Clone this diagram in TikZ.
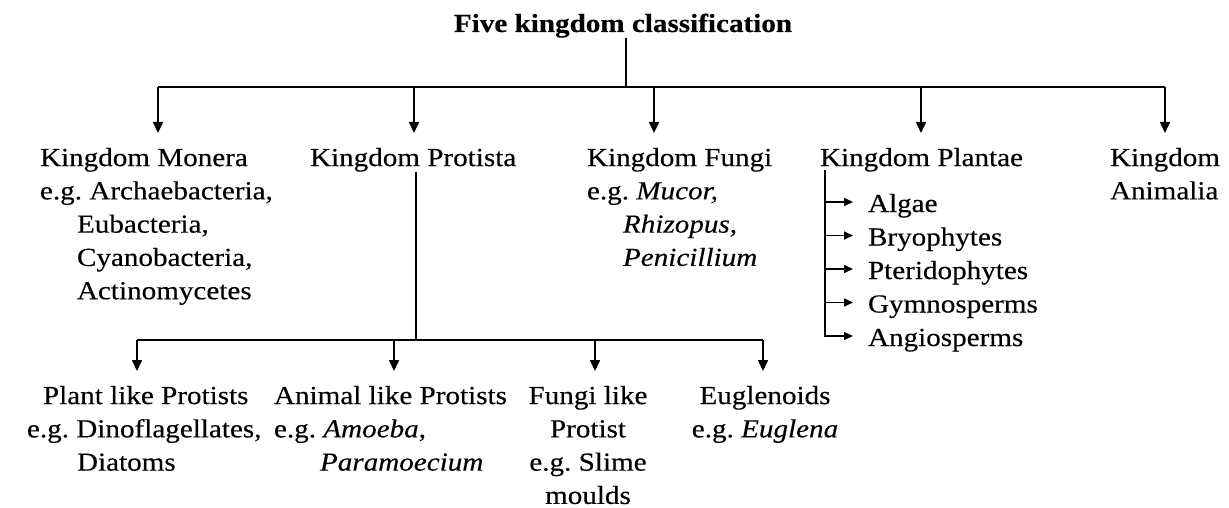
\documentclass[tikz,border=0pt]{standalone}
\usepackage{fontspec}
\setmainfont{Liberation Serif}[FakeStretch=1.12,FakeBold=0.3]
\usetikzlibrary{arrows.meta,calc}
\begin{document}
\begin{tikzpicture}[x=1pt,y=-1pt,
  lbl/.style={inner sep=0pt,outer sep=0pt,font=\fontsize{26}{33.3}\selectfont,align=left,anchor=north west},
  ctr/.style={lbl,align=center,anchor=north},
  ln/.style={line width=1.6pt},
  arr/.style={line width=1.6pt,-{Triangle[length=11pt,width=10pt]},shorten >=15pt},
  sarr/.style={line width=1.6pt,-{Triangle[length=9pt,width=8pt]},shorten >=15pt}]
\useasboundingbox[fill=white] (0,0) rectangle (1229,508);
% title
\node[inner sep=0pt,font=\fontsize{26}{32}\selectfont\bfseries,anchor=base] (title) at (623,32) {Five kingdom classification};
\coordinate (top) at (626,87);
\draw[ln] (title.south -| top) -- (top);
% kingdoms
\node[lbl] (monera) at (40,148) {Kingdom Monera\\e.g.\ Archaebacteria,\\\hspace*{37pt}Eubacteria,\\\hspace*{37pt}Cyanobacteria,\\\hspace*{37pt}Actinomycetes};
\node[lbl] (protista) at (310,148) {Kingdom Protista};
\node[lbl] (fungi) at (587,148) {Kingdom Fungi\\e.g.\ \textit{Mucor,}\\\hspace*{36pt}\textit{Rhizopus,}\\\hspace*{36pt}\textit{Penicillium}};
\node[lbl] (plantae) at (820,148) {Kingdom Plantae};
\node[lbl] (animalia) at (1110,148) {Kingdom\\Animalia};
% main bar
\coordinate (k1) at (158,87);
\coordinate (k2) at (414,87);
\coordinate (k3) at (654,87);
\coordinate (k4) at (921,87);
\coordinate (k5) at (1165,87);
\draw[ln] (k1) -- (k5);
\draw[arr] (k1) -- (k1 |- monera.north);
\draw[arr] (k2) -- (k2 |- protista.north);
\draw[arr] (k3) -- (k3 |- fungi.north);
\draw[arr] (k4) -- (k4 |- plantae.north);
\draw[arr] (k5) -- (k5 |- animalia.north);
% plantae groups
\node[lbl,anchor=base west] (algae) at (868,212) {Algae};
\node[lbl,anchor=base west] (bryo) at (868,245.5) {Bryophytes};
\node[lbl,anchor=base west] (pterido) at (868,279) {Pteridophytes};
\node[lbl,anchor=base west] (gymno) at (868,312.5) {Gymnosperms};
\node[lbl,anchor=base west] (angio) at (868,346) {Angiosperms};
\coordinate (pl) at (825,170);
\coordinate (a1) at ([yshift=10pt]algae.base west);
\coordinate (a2) at ([yshift=10pt]bryo.base west);
\coordinate (a3) at ([yshift=10pt]pterido.base west);
\coordinate (a4) at ([yshift=10pt]gymno.base west);
\coordinate (a5) at ([yshift=10pt]angio.base west);
\draw[sarr] (pl) |- (a5);
\draw[sarr] (pl |- a1) -- (a1);
\draw[sarr] (pl |- a2) -- (a2);
\draw[sarr] (pl |- a3) -- (a3);
\draw[sarr] (pl |- a4) -- (a4);
% protista subgroups
\node[lbl] (plantlike) at (27,386) {\hspace*{16pt}Plant like Protists\\e.g.\ Dinoflagellates,\\\hspace*{50pt}Diatoms};
\node[lbl] (animallike) at (274,386) {Animal like Protists\\e.g.\ \textit{Amoeba},\\\hspace*{46pt}\textit{Paramoecium}};
\node[ctr] (fungilike) at (588,386) {Fungi like\\Protist\\e.g.\ Slime\\moulds};
\node[ctr] (eugl) at (765,386) {Euglenoids\\e.g.\ \textit{Euglena}};
\coordinate (pb) at (416,340);
\draw[ln] (protista.south -| pb) -- (pb);
\coordinate (s1) at (137,340);
\coordinate (s2) at (394,340);
\coordinate (s3) at (595,340);
\coordinate (s4) at (763,340);
\draw[ln] (s1) -- (s4);
\draw[arr] (s1) -- (s1 |- plantlike.north);
\draw[arr] (s2) -- (s2 |- animallike.north);
\draw[arr] (s3) -- (s3 |- fungilike.north);
\draw[arr] (s4) -- (s4 |- eugl.north);
\end{tikzpicture}
\end{document}
